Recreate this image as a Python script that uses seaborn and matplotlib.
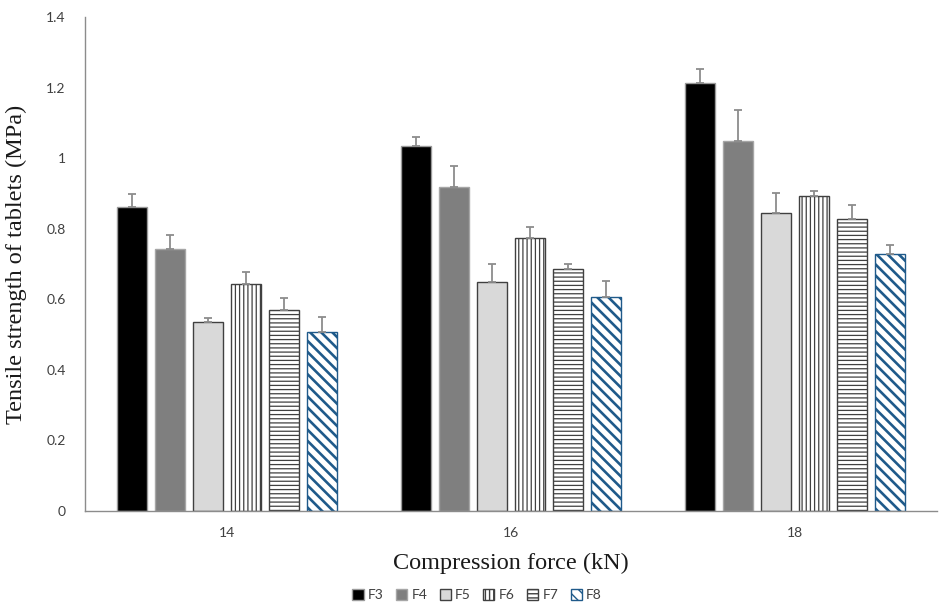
import matplotlib
matplotlib.use("Agg")
import matplotlib.pyplot as plt
import seaborn as sns
import pandas as pd
import numpy as np
from matplotlib.patches import Patch

# ---- data ----
forces = ["14", "16", "18"]
formulations = ["F3", "F4", "F5", "F6", "F7", "F8"]
F3 = [0.862, 1.036, 1.214]
F4 = [0.743, 0.919, 1.048]
F5 = [0.535, 0.649, 0.846]
F6 = [0.643, 0.774, 0.893]
F7 = [0.569, 0.686, 0.827]
F8 = [0.507, 0.606, 0.728]
F3_err = [0.037, 0.025, 0.040]
F4_err = [0.040, 0.060, 0.088]
F5_err = [0.011, 0.051, 0.055]
F6_err = [0.034, 0.031, 0.013]
F7_err = [0.034, 0.014, 0.039]
F8_err = [0.042, 0.046, 0.025]
y_ticks = [0, 0.2, 0.4, 0.6, 0.8, 1.0, 1.2, 1.4]
y_tick_labels = ["0", "0.2", "0.4", "0.6", "0.8", "1", "1.2", "1.4"]

means = {"F3": F3, "F4": F4, "F5": F5, "F6": F6, "F7": F7, "F8": F8}
errs = {"F3": F3_err, "F4": F4_err, "F5": F5_err, "F6": F6_err, "F7": F7_err, "F8": F8_err}

rows = []
for f in formulations:
    for i, c in enumerate(forces):
        rows.append({"force": c, "form": f, "value": means[f][i], "err": errs[f][i]})
df = pd.DataFrame(rows)

# ---- styles ----
styles = {
    "F3": dict(fc="#000000", ec="#9a9a9a", hatch=None),
    "F4": dict(fc="#7f7f7f", ec="#a6a6a6", hatch=None),
    "F5": dict(fc="#d9d9d9", ec="#404040", hatch=None),
    "F6": dict(fc="#ffffff", ec="#404040", hatch="||||"),
    "F7": dict(fc="#ffffff", ec="#404040", hatch="----"),
    "F8": dict(fc="#ffffff", ec="#1f5a8a", hatch="\\\\\\"),
}

sns.set_theme(style="white")
plt.rcParams["hatch.linewidth"] = 1.0

fig = plt.figure(figsize=(9.39, 6.02), dpi=100)
ax = fig.add_axes([85 / 939, (602 - 510.7) / 602, (937 - 85) / 939, (510.7 - 17.3) / 602])

palette = {f: styles[f]["fc"] for f in formulations}
sns.barplot(data=df, x="force", y="value", hue="form", order=forces,
            hue_order=formulations, palette=palette, gap=0.2,
            errorbar=None, legend=False, saturation=1, ax=ax)

for f, cont in zip(formulations, ax.containers):
    st = styles[f]
    xs, hs = [], []
    for p in cont.patches:
        p.set_facecolor(st["fc"])
        p.set_edgecolor(st["ec"])
        p.set_linewidth(1.0)
        if st["hatch"]:
            p.set_hatch(st["hatch"])
            if hasattr(p, "set_hatch_linewidth"):
                p.set_hatch_linewidth(1.9 if f == "F8" else 0.9)
        xs.append(p.get_x() + p.get_width() / 2)
        hs.append(p.get_height())
    e = errs[f]
    ax.errorbar(xs, hs, yerr=[np.zeros(len(e)), e], fmt="none",
                ecolor="#8c8c8c", elinewidth=1.3, capsize=3, capthick=1.3, zorder=1)

ax.set_ylim(0, 1.4)
ax.set_xlim(-0.5, 2.5)
ax.set_yticks(y_ticks)
ax.set_yticklabels(y_tick_labels)
tick_font = ["Lato", "DejaVu Sans"]
for lab in ax.get_yticklabels() + ax.get_xticklabels():
    lab.set_family(tick_font)
    lab.set_fontsize(10)
    lab.set_color("#404040")
ax.tick_params(axis="y", length=0, pad=14)
ax.tick_params(axis="x", length=0, pad=12)

for s in ["top", "right"]:
    ax.spines[s].set_visible(False)
for s in ["left", "bottom"]:
    ax.spines[s].set_color("#8c8c8c")
    ax.spines[s].set_linewidth(1.0)

serif = ["Liberation Serif", "DejaVu Serif"]
ax.set_xlabel("Compression force (kN)", family=serif, fontsize=17.5, color="#1a1a1a", labelpad=10)
ax.set_ylabel("Tensile strength of tablets (MPa)", family=serif, fontsize=17.5, color="#1a1a1a", labelpad=14)

handles = []
for f in formulations:
    st = styles[f]
    h = Patch(facecolor=st["fc"], edgecolor=st["ec"], hatch=st["hatch"], label=f, linewidth=1.0)
    handles.append(h)
leg = fig.legend(handles=handles, loc="center", bbox_to_anchor=(0.508, 1 - 595 / 602), ncol=6,
                 frameon=False, handlelength=0.8, handleheight=0.8, handletextpad=0.3,
                 columnspacing=0.9, prop={"family": tick_font, "size": 10})
for t in leg.get_texts():
    t.set_color("#404040")

fig.savefig("out.png", dpi=100)
